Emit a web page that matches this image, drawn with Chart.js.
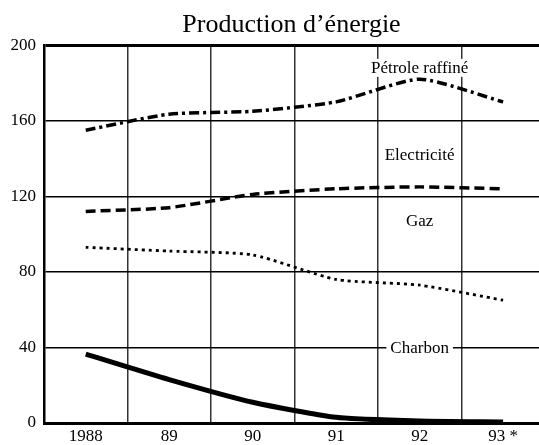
<!DOCTYPE html>
<html>
<head>
<meta charset="utf-8">
<script src="https://cdn.jsdelivr.net/npm/chart.js@4"></script>
<style>
  html, body { margin: 0; padding: 0; background: #fff; }
</style>
</head>
<body>
<canvas id="chart" width="539" height="445"></canvas>
<script>
const years = [1988, 1989, 1990, 1991, 1992, 1993];
const yearLabels = ["1988", "89", "90", "91", "92", "93 *"];
const petrole = [155, 163.5, 165, 170, 182, 170];
const electricite = [112, 114, 121, 124, 125, 124];
const gaz = [93, 91, 89, 76, 73, 65];
const charbon = [36.5, 23, 11, 3, 1, 0.5];
const yTicks = [0, 40, 80, 120, 160, 200];

// names written inside the plot, placed in data units
const seriesNames = ["Pétrole raffiné", "Electricité", "Gaz", "Charbon"];
const nameX = [1992, 1992, 1992, 1992];
const nameY = [188, 142, 107, 40];

const serif = '"Liberation Serif", "Times New Roman", serif';
Chart.defaults.font.family = serif;
Chart.defaults.color = "#000";

function points(values) {
  return years.map((x, i) => ({ x: x, y: values[i] }));
}

const seriesNamePlugin = {
  id: "seriesNames",
  beforeDatasetsDraw(chart) {
    const ctx = chart.ctx;
    const x = chart.scales.x;
    const y = chart.scales.y;
    ctx.save();
    ctx.font = "17px " + serif;
    ctx.textAlign = "center";
    ctx.textBaseline = "middle";
    seriesNames.forEach((name, i) => {
      const px = x.getPixelForValue(nameX[i]);
      const py = y.getPixelForValue(nameY[i]);
      const w = ctx.measureText(name).width;
      ctx.fillStyle = "#fff";
      ctx.fillRect(px - w / 2 - 4, py - 9, w + 8, 18);
      ctx.fillStyle = "#000";
      ctx.fillText(name, px, py + 1);
    });
    ctx.restore();
  },
};

const ctx = document.getElementById("chart").getContext("2d");
const myChart = new Chart(ctx, {
  type: "line",
  data: {
    datasets: [
      {
        label: "Pétrole raffiné",
        data: points(petrole),
        borderColor: "#000",
        borderWidth: 3.5,
        borderDash: [10, 4, 3, 4],
      },
      {
        label: "Electricité",
        data: points(electricite),
        borderColor: "#000",
        borderWidth: 3.5,
        borderDash: [10, 5],
      },
      {
        label: "Gaz",
        data: points(gaz),
        borderColor: "#000",
        borderWidth: 2.8,
        borderDash: [3, 4],
      },
      {
        label: "Charbon",
        data: points(charbon),
        borderColor: "#000",
        borderWidth: 5,
      },
    ],
  },
  options: {
    responsive: false,
    animation: false,
    devicePixelRatio: 1,
    elements: {
      point: { radius: 0 },
      line: { tension: 0.2, fill: false, borderCapStyle: "butt" },
    },
    layout: { padding: 0 },
    plugins: {
      legend: { display: false },
      tooltip: { enabled: false },
      title: {
        display: true,
        text: "Production d’énergie",
        fullSize: false,
        font: { family: serif, size: 26, weight: "normal" },
        color: "#000",
        padding: { top: 10, bottom: 4 },
      },
    },
    scales: {
      x: {
        type: "linear",
        min: 1987.5,
        max: 1993.43,
        afterBuildTicks: (scale) => {
          const ticks = [];
          years.forEach((yr) => {
            ticks.push({ value: yr - 0.5 });
            ticks.push({ value: yr });
          });
          scale.ticks = ticks;
        },
        afterFit: (scale) => {
          scale.height = 22;
        },
        grid: {
          drawTicks: false,
          lineWidth: 1.5,
          color: (c) =>
            c.tick && c.tick.value % 1 !== 0 && c.tick.value > 1987.6
              ? "#333"
              : "rgba(0,0,0,0)",
        },
        border: { display: true, color: "#000", width: 3 },
        ticks: {
          autoSkip: false,
          maxRotation: 0,
          padding: 3,
          font: { family: serif, size: 17 },
          color: "#000",
          callback: (value) => {
            const i = years.indexOf(value);
            return i >= 0 ? yearLabels[i] : "";
          },
        },
      },
      y: {
        min: 0,
        max: 200,
        afterBuildTicks: (scale) => {
          scale.ticks = yTicks.map((v) => ({ value: v }));
        },
        afterFit: (scale) => {
          scale.width = 44;
        },
        grid: {
          drawTicks: false,
          color: "#000",
          lineWidth: (c) => (c.tick && c.tick.value === 200 ? 3 : 1.5),
        },
        border: { display: true, color: "#000", width: 2.5 },
        ticks: {
          padding: 8,
          font: { family: serif, size: 17 },
          color: "#000",
        },
      },
    },
  },
  plugins: [seriesNamePlugin],
});
</script>
</body>
</html>
